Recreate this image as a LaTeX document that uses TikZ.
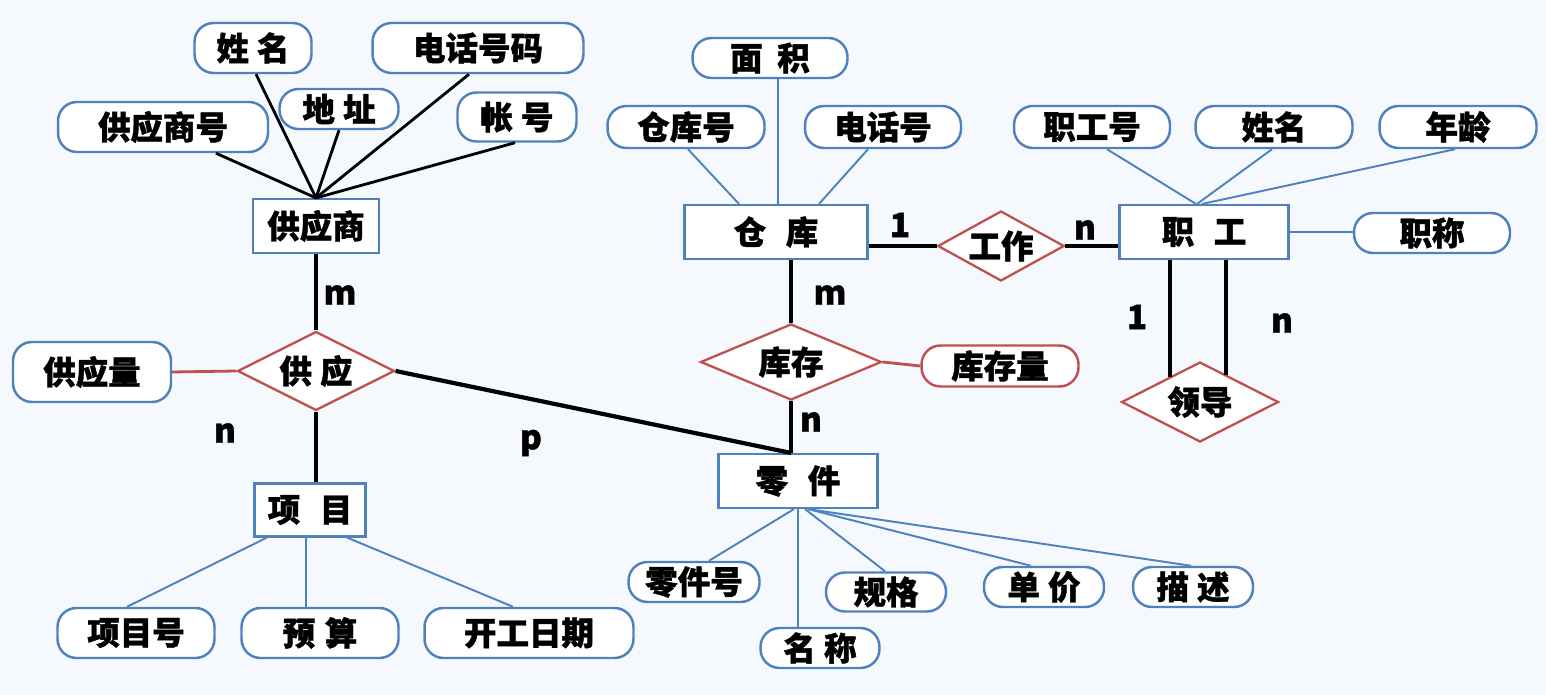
\documentclass[tikz,border=0pt]{standalone}
\usepackage{fontspec}
\setmainfont{Noto Sans CJK SC}[BoldFeatures={FakeBold=1.2}]
\definecolor{ERBlue}{RGB}{79,129,189}
\definecolor{ERRed}{RGB}{192,80,77}
\definecolor{BgTint}{RGB}{245,249,253}
\usetikzlibrary{shapes.geometric, calc}

\begin{document}
\begin{tikzpicture}[x=0.02cm, y=-0.02cm]
        % E-R diagram (supply / warehouse / employee)
        \tikzset{
          entity/.style={draw=ERBlue, line width=1.2pt, fill=white, inner sep=0,
                         font=\bfseries\fontsize{18.5}{21}\selectfont},
          attr/.style={draw=ERBlue, line width=1.4pt, fill=white, inner sep=0,
                       rounded corners=0.38cm, font=\bfseries\fontsize{18.5}{21}\selectfont},
          rel/.style={diamond, aspect=2, draw=ERRed, line width=1.3pt, fill=white,
                      inner sep=0, font=\bfseries\fontsize{18.5}{21}\selectfont},
          card/.style={font=\bfseries\fontsize{19}{22}\selectfont},
          link/.style={black, line width=2.4pt},
          attrlink/.style={black, line width=1.6pt},
          bluelink/.style={ERBlue, line width=1.1pt},
          redlink/.style={ERRed, line width=1.6pt}
        }

        \fill[BgTint] (0,0) rectangle (1546,695);

        % Supplier
        \node[entity, minimum width=2.52cm, minimum height=1.08cm] (gys) at (316,226) {供应商};
        \node[attr, minimum width=4.2cm, minimum height=1.0cm] (gysh) at (163,127) {供应商号};
        \node[attr, minimum width=2.34cm, minimum height=1.0cm] (gxm) at (253,48) {姓\hspace{.25em}名};
        \node[attr, minimum width=2.38cm, minimum height=0.8cm] (dz) at (339,109) {地\hspace{.25em}址};
        \node[attr, minimum width=4.22cm, minimum height=1.0cm] (dhhm) at (478,48) {电话号码};
        \node[attr, minimum width=2.38cm, minimum height=0.98cm] (zh) at (517,117) {帐\hspace{.25em}号};

        % Supply relation
        \node[rel, minimum width=3.14cm, minimum height=1.58cm] (gy) at (316,371) {供\hspace{.25em}应};
        \node[attr, minimum width=3.16cm, minimum height=1.2cm] (gyl) at (92,372) {供应量};

        % Project
        \node[entity, minimum width=2.22cm, minimum height=1.06cm] (xm) at (310,510) {项\hspace{.6em}目};
        \node[attr, minimum width=3.14cm, minimum height=1.0cm] (xmh) at (136,633) {项目号};
        \node[attr, minimum width=3.14cm, minimum height=1.0cm] (ys) at (320,633) {预\hspace{.3em}算};
        \node[attr, minimum width=4.18cm, minimum height=1.0cm] (kgrq) at (529,633) {开工日期};

        % Warehouse
        \node[entity, minimum width=3.66cm, minimum height=1.08cm] (ck) at (776,232) {仓\hspace{.6em}库};
        \node[attr, minimum width=3.1cm, minimum height=0.8cm] (mj) at (770,58) {面\hspace{.45em}积};
        \node[attr, minimum width=3.14cm, minimum height=0.84cm] (ckh) at (686,127) {仓库号};
        \node[attr, minimum width=3.12cm, minimum height=0.84cm] (dhh) at (883,127) {电话号};

        % Storage relation
        \node[rel, minimum width=3.62cm, minimum height=1.52cm] (kc) at (791,362) {库存};
        \node[attr, draw=ERRed, minimum width=3.14cm, minimum height=0.82cm] (kcl) at (1000,366) {库存量};

        % Work relation and employee
        \node[rel, minimum width=2.5cm, minimum height=1.4cm] (gz) at (1001,246) {工作};
        \node[entity, minimum width=3.38cm, minimum height=1.08cm] (zg) at (1204,232) {职\hspace{.6em}工};
        \node[attr, minimum width=3.12cm, minimum height=0.84cm] (zgh) at (1092,127) {职工号};
        \node[attr, minimum width=3.14cm, minimum height=0.84cm] (zxm) at (1274,127) {姓名};
        \node[attr, minimum width=3.14cm, minimum height=0.84cm] (nl) at (1458,127) {年龄};
        \node[attr, minimum width=3.12cm, minimum height=0.8cm] (zc) at (1432,233) {职称};
        \node[rel, minimum width=3.14cm, minimum height=1.6cm] (ld) at (1200,402) {领导};

        % Part
        \node[entity, minimum width=3.18cm, minimum height=1.08cm] (lj) at (798,481) {零\hspace{.6em}件};
        \node[attr, minimum width=2.62cm, minimum height=0.8cm] (ljh) at (694,582) {零件号};
        \node[attr, minimum width=2.38cm, minimum height=0.8cm] (mc) at (820,648) {名\hspace{.25em}称};
        \node[attr, minimum width=2.4cm, minimum height=0.78cm] (gg) at (886,592) {规格};
        \node[attr, minimum width=2.4cm, minimum height=0.8cm] (dj) at (1044,587) {单\hspace{.25em}价};
        \node[attr, minimum width=2.4cm, minimum height=0.8cm] (ms) at (1193,587) {描\hspace{.25em}述};

        % Cardinalities
        \node[card] (cm1) at (340,295) {m};
        \node[card] (cn1) at (225,433) {n};
        \node[card] (cp1) at (531,443) {p};
        \node[card] (cm2) at (830,295) {m};
        \node[card] (cn2) at (811,422) {n};
        \node[card] (c11) at (900,225) {1};
        \node[card] (cn3) at (1085,230) {n};
        \node[card] (c12) at (1137,317) {1};
        \node[card] (cn4) at (1282,323) {n};

        % Supplier attributes
        \draw[attrlink] (gys.north) -- ($(gysh.south)+(53,0)$);
        \draw[attrlink] (gys.north) -- ($(gxm.south)+(3,0)$);
        \draw[attrlink] (gys.north) -- (dz.south);
        \draw[attrlink] (gys.north) -- ($(dhhm.south)+(-9,0)$);
        \draw[attrlink] (gys.north) -- ($(zh.south)+(-2,0)$);

        % Relationship lines
        \draw[link] (gys.south) -- (gy.north);
        \draw[link] (gy.south) -- (gy.south |- xm.north);
        \draw[link] (gy.east) -- (kc.south |- lj.north);
        \draw[link] (kc.north) -- (kc.north |- ck.south);
        \draw[link] (kc.south) -- (kc.south |- lj.north);
        \draw[link] (gz.west -| ck.east) -- (gz.west);
        \draw[link] (gz.east) -- (gz.east -| zg.west);
        \draw[link] ($(zg.south)+(-34,0)$) -- ($(ld)+(-30,-25)$);
        \draw[link] ($(zg.south)+(22,0)$) -- ($(ld)+(26,-27)$);
        \draw[redlink] (gyl.east) -- (gy.west);
        \draw[redlink] (kc.east) -- (kcl.west);

        % Project attributes
        \draw[bluelink] ($(xm.south)+(-43,0)$) -- ($(xmh.north)+(-9,0)$);
        \draw[bluelink] ($(xm.south)+(-4,0)$) -- ($(ys.north)+(-14,0)$);
        \draw[bluelink] ($(xm.south)+(37,0)$) -- ($(kgrq.north)+(-16,0)$);

        % Warehouse attributes
        \draw[bluelink] ($(mj.south)+(8,0)$) -- ($(ck.north)+(2,0)$);
        \draw[bluelink] ($(ckh.south)+(2,0)$) -- ($(ck.north)+(-37,0)$);
        \draw[bluelink] ($(dhh.south)+(-15,0)$) -- ($(ck.north)+(43,0)$);

        % Employee attributes
        \draw[bluelink] ($(zgh.south)+(15,0)$) -- ($(zg.north)+(-8,0)$);
        \draw[bluelink] ($(zxm.south)+(-2,0)$) -- ($(zg.north)+(-7,0)$);
        \draw[bluelink] ($(nl.south)+(-3,0)$) -- ($(zg.north)+(-2,0)$);
        \draw[bluelink] (zg.east) -- (zg.east -| zc.west);

        % Part attributes
        \draw[bluelink] ($(lj.south)+(-4,0)$) -- ($(ljh.north)+(15,0)$);
        \draw[bluelink] (lj.south) -- ($(mc.north)+(-22,0)$);
        \draw[bluelink] ($(lj.south)+(7,0)$) -- ($(gg.north)+(-1,0)$);
        \draw[bluelink] ($(lj.south)+(10,0)$) -- ($(dj.north)+(-13,0)$);
        \draw[bluelink] ($(lj.south)+(10,0)$) -- ($(ms.north)+(-2,0)$);
      \end{tikzpicture}
\end{document}
